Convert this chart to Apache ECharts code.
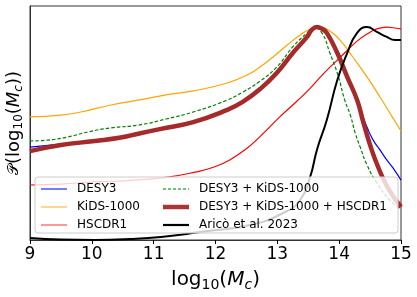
<!DOCTYPE html>
<html>
<head>
<meta charset="utf-8">
<script src="https://cdn.jsdelivr.net/npm/echarts@6/dist/echarts.min.js"></script>
<style>
html,body{margin:0;padding:0;background:#fff;}
#chart{width:417px;height:297px;}
</style>
</head>
<body>
<div id="chart"></div>
<script>
// x = log10(Mc), y = relative probability density (arbitrary units)
const xTicks = [9, 10, 11, 12, 13, 14, 15];

const desy3 = [[9.00,39.7],[9.50,41.0],[10.05,42.3],[10.47,43.8],[10.75,45.4],[11.10,47.4],[11.64,50.4],[12.19,55.6],[12.44,59.0],[12.72,64.5],[12.99,71.4],[13.25,79.9],[13.48,86.8],[13.56,89.9],[13.64,91.0],[13.72,90.3],[13.80,88.5],[13.97,79.9],[14.13,69.7],[14.26,60.7],[14.34,55.6],[14.45,48.3],[14.55,42.7],[14.66,38.5],[14.77,34.2],[14.87,30.8],[15.00,25.6]];

const kids1000 = [[9.00,52.6],[9.50,53.4],[9.82,54.7],[10.31,57.7],[10.75,59.8],[11.20,62.0],[11.64,63.7],[12.19,67.1],[12.51,70.5],[12.72,73.9],[12.93,78.2],[13.16,83.3],[13.37,87.6],[13.58,90.6],[13.69,91.0],[13.80,90.2],[14.01,85.5],[14.22,78.2],[14.45,69.7],[14.66,61.1],[14.87,52.1],[15.00,46.6]];

const hscdr1 = [[9.00,23.5],[9.50,23.9],[10.05,24.8],[10.59,25.4],[11.23,26.9],[11.67,29.0],[11.99,31.3],[12.23,34.2],[12.50,39.0],[12.72,44.2],[13.04,52.6],[13.32,59.4],[13.53,64.8],[13.74,70.9],[13.97,76.9],[14.13,81.0],[14.29,85.0],[14.45,88.0],[14.61,90.2],[14.77,91.0],[14.90,90.6],[15.00,90.2]];

const desy3Kids = [[9.00,42.3],[9.29,42.7],[9.61,44.0],[9.94,46.2],[10.31,47.9],[10.75,49.1],[11.20,51.7],[11.64,54.7],[12.19,59.8],[12.44,63.2],[12.72,67.9],[12.99,73.9],[13.25,82.5],[13.48,88.5],[13.59,90.6],[13.72,88.5],[13.85,79.9],[13.98,70.5],[14.09,59.8],[14.18,53.4],[14.26,45.7],[14.34,39.7],[14.45,32.1],[14.61,24.4],[14.82,17.1],[15.00,13.2]];

const combined = [[9.00,38.0],[9.50,40.6],[10.05,42.3],[10.47,43.8],[10.75,45.4],[11.10,47.4],[11.64,50.4],[12.19,55.6],[12.44,59.0],[12.72,64.5],[12.99,71.4],[13.25,79.9],[13.48,86.8],[13.56,89.9],[13.64,91.0],[13.72,90.3],[13.80,88.5],[13.97,79.9],[14.13,69.7],[14.29,59.8],[14.39,50.4],[14.50,40.6],[14.63,31.2],[14.79,22.2],[15.00,14.1]];

const arico2023 = [[9.00,0.9],[9.49,0.2],[10.05,0.0],[10.62,0.4],[11.12,1.3],[11.75,3.4],[12.56,6.4],[13.09,11.5],[13.37,17.1],[13.53,26.9],[13.64,38.5],[13.80,51.3],[13.97,68.4],[14.13,79.9],[14.29,88.5],[14.45,91.0],[14.61,88.9],[14.77,86.8],[14.90,85.5],[15.00,85.5]];

const names = ['DESY3', 'KiDS-1000', 'HSCDR1', 'DESY3 + KiDS-1000', 'DESY3 + KiDS-1000 + HSCDR1', 'Aricò et al. 2023'];
const colors = ['#0000ff', '#ffa500', '#ff0000', '#008000', '#a52a2a', '#000000'];
const datasets = [desy3, kids1000, hscdr1, desy3Kids, combined, arico2023];
const widths = [1.2, 1.2, 1.2, 1.2, 4.5, 2];

const FONT = 'DejaVu Sans';
const chart = echarts.init(document.getElementById('chart'), null, {renderer: 'canvas'});

const series = datasets.map((d, i) => ({
  name: names[i],
  type: 'line',
  data: d,
  symbol: 'none',
  smooth: 0.5,
  z: 2 + i * 0.01,
  lineStyle: {color: colors[i], width: widths[i], type: i === 3 ? [3.5, 2] : 'solid'},
  itemStyle: {color: colors[i]},
  emphasis: {disabled: true},
  animation: false
}));

const thin = 'path://M0,0h26v1.6h-26z';
const thick = 'path://M0,0h26v4.5h-26z';
const medium = 'path://M0,0h26v2.2h-26z';
const dashed = 'path://M0,0h3v1.5h-3zM5,0h3v1.5h-3zM10,0h3v1.5h-3zM15,0h3v1.5h-3zM20,0h3v1.5h-3zM25,0h1v1.5h-1z';

const legendCommon = {
  orient: 'vertical',
  top: 181,
  padding: 0,
  itemWidth: 26,
  itemHeight: 10,
  itemGap: 2,
  selectedMode: false,
  textStyle: {fontFamily: FONT, fontSize: 12, color: '#000', lineHeight: 16, padding: [0, 0, 0, 5]}
};

const richSub = (fs, sfs, lh, pad) => ({
  sub: {fontFamily: FONT, fontSize: sfs, verticalAlign: 'bottom', lineHeight: lh, padding: [pad, 0, 0, 0]},
  it: {fontFamily: FONT, fontSize: fs, fontStyle: 'italic', lineHeight: lh},
  subit: {fontFamily: FONT, fontSize: sfs, fontStyle: 'italic', verticalAlign: 'bottom', lineHeight: lh, padding: [pad, 0, 0, 0]},
  scr: {fontSize: fs - 3, lineHeight: lh}
});

chart.setOption({
  animation: false,
  grid: {left: 30, right: 16, top: 6, bottom: 57, show: true, borderColor: '#333', borderWidth: 1,
    backgroundColor: 'transparent', containLabel: false, outerBoundsMode: 'none'},
  xAxis: {
    type: 'value', min: 9, max: 15, interval: 1,
    axisLine: {show: true, lineStyle: {color: '#333', width: 1}},
    axisTick: {show: true, inside: false, length: 4, lineStyle: {color: '#000', width: 1}},
    splitLine: {show: false},
    axisLabel: {fontFamily: FONT, fontSize: 17, color: '#000', margin: 6,
      formatter: v => xTicks.indexOf(v) >= 0 ? String(v) : ''},
    name: 'log{sub|10}({it|M}{subit|c})',
    nameLocation: 'middle',
    nameGap: 25,
    nameTextStyle: {fontFamily: FONT, fontSize: 20, color: '#000', lineHeight: 24, rich: richSub(20, 14, 24, 6)}
  },
  yAxis: {
    type: 'value', min: 0, max: 100,
    axisLine: {show: true, lineStyle: {color: '#333', width: 1}},
    axisTick: {show: false},
    axisLabel: {show: false},
    splitLine: {show: false},
    name: '{scr|𝒫}(log{sub|10}({it|M}{subit|c}))',
    nameLocation: 'middle',
    nameRotate: 90,
    nameGap: 5,
    nameTextStyle: {fontFamily: FONT, fontSize: 18, color: '#000', lineHeight: 22, rich: richSub(18, 12, 22, 5)}
  },
  legend: [
    Object.assign({}, legendCommon, {
      left: 41,
      data: [
        {name: names[0], icon: thin, itemStyle: {color: colors[0], opacity: 0.65}},
        {name: names[1], icon: thin, itemStyle: {color: colors[1], opacity: 0.55}},
        {name: names[2], icon: thin, itemStyle: {color: colors[2], opacity: 0.5}}
      ]
    }),
    Object.assign({}, legendCommon, {
      left: 163,
      data: [
        {name: names[3], icon: dashed, itemStyle: {color: colors[3], opacity: 0.7}},
        {name: names[4], icon: thick, itemStyle: {color: colors[4], opacity: 0.95}},
        {name: names[5], icon: medium, itemStyle: {color: colors[5], opacity: 1}}
      ]
    })
  ],
  graphic: [{
    type: 'rect', z: 3,
    shape: {x: 35, y: 177, width: 363, height: 56, r: 3},
    style: {fill: 'rgba(255,255,255,0.8)', stroke: '#cccccc', lineWidth: 1}
  }],
  series: series
});
</script>
</body>
</html>
